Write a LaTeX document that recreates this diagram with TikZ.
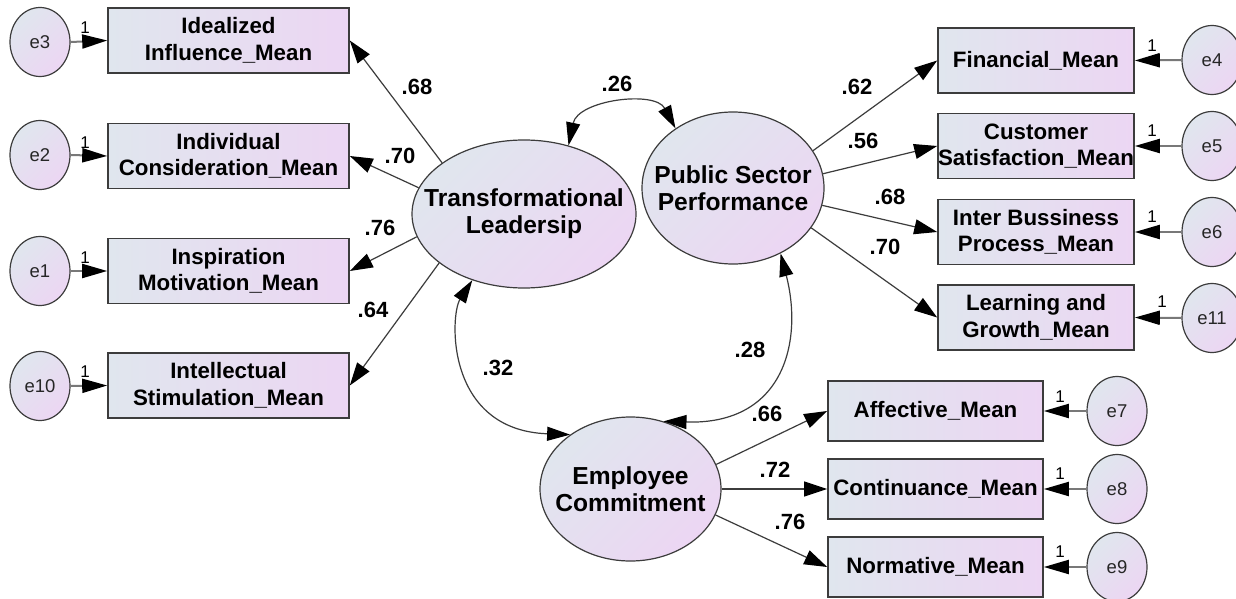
\documentclass[tikz,border=0pt]{standalone}
\usepackage{fontspec}
\setmainfont{Liberation Sans}
\usetikzlibrary{arrows.meta,shapes.geometric}
\definecolor{ca}{RGB}{224,230,238}
\definecolor{cb}{RGB}{236,214,243}
\definecolor{edge}{RGB}{60,60,60}
\definecolor{eline}{RGB}{120,120,120}
\begin{document}
\begin{tikzpicture}[x=1pt,y=-1pt,
  obs/.style={rectangle, draw=edge, line width=1.6pt, left color=ca, right color=cb, minimum height=65pt, inner sep=0pt, align=center, font=\fontsize{22.3}{26.5}\selectfont\bfseries},
  lat/.style={ellipse, draw=edge, line width=1.2pt, shading=axis, top color=ca, bottom color=cb, shading angle=45, inner sep=0pt},
  lattext/.style={align=center, inner sep=0pt, font=\fontsize{24.6}{27}\selectfont\bfseries},
  err/.style={ellipse, draw=edge, line width=1.2pt, top color=ca, bottom color=cb, shading angle=45, minimum width=60pt, minimum height=69pt, inner sep=0pt, text=black!85, font=\fontsize{18.5}{20}\selectfont},
  pth/.style={draw=edge, line width=1.2pt, -{Triangle[length=23pt,width=15pt,color=black]}},
  cov/.style={draw=edge, line width=1.2pt, {Triangle[length=23pt,width=14pt,color=black]}-{Triangle[length=23pt,width=14pt,color=black]}},
  eln/.style={draw=eline, line width=2pt, -{Triangle[length=25pt,width=14pt,color=black]}},
  coef/.style={inner sep=0pt, font=\fontsize{22}{24}\selectfont\bfseries},
  one/.style={inner sep=0pt, text=black, font=\fontsize{17}{18}\selectfont}
]
\useasboundingbox[fill=white] (0,0) rectangle (1236,599);

% latent variables
\node[lat, minimum width=224pt, minimum height=148pt] (TL) at (524,214) {};
\node[lattext] (TLt) at (TL) {Transformational\\Leadersip};
\node[lat, minimum width=182pt, minimum height=152pt] (PSP) at (733,188) {};
\node[lattext] (PSPt) at (PSP) {Public Sector\\Performance};
\node[lat, minimum width=181pt, minimum height=144pt] (EC) at (630.5,489) {};
\node[lattext] (ECt) at (EC) {Employee\\Commitment};

% left observed
\node[obs, minimum width=241pt] (B1) at (228.5,40.5) {Idealized\\Influence\_Mean};
\node[obs, minimum width=241pt] (B2) at (228.5,156) {Individual\\Consideration\_Mean};
\node[obs, minimum width=241pt] (B3) at (228.5,271) {Inspiration\\Motivation\_Mean};
\node[obs, minimum width=241pt] (B4) at (228.5,385.5) {Intellectual\\Stimulation\_Mean};
\node[err] (E3) at (40,42) {e3};
\node[err] (E2) at (40,155) {e2};
\node[err] (E1) at (40,271) {e1};
\node[err] (E10) at (40,386) {e10};

% right observed
\node[obs, minimum width=196pt] (F) at (1036,60.5) {Financial\_Mean};
\node[obs, minimum width=196pt] (CS) at (1036,146) {Customer\\Satisfaction\_Mean};
\node[obs, minimum width=196pt] (IB) at (1036,232) {Inter Bussiness\\Process\_Mean};
\node[obs, minimum width=196pt] (LG) at (1036,317.5) {Learning and\\Growth\_Mean};
\node[err] (E4) at (1212,60) {e4};
\node[err] (E5) at (1212,146) {e5};
\node[err] (E6) at (1212,232) {e6};
\node[err] (E11) at (1212,318) {e11};

% bottom observed
\node[obs, minimum width=215pt, minimum height=60pt] (A) at (935.5,411) {Affective\_Mean};
\node[obs, minimum width=215pt, minimum height=60pt] (C) at (935.5,489) {Continuance\_Mean};
\node[obs, minimum width=215pt, minimum height=60pt] (N) at (935.5,567) {Normative\_Mean};
\node[err] (E7) at (1117,411) {e7};
\node[err] (E8) at (1117,489) {e8};
\node[err] (E9) at (1117,567) {e9};

% error arrows
\draw[eln] (E3.east) -- (B1.west);
\draw[eln] (E2.east) -- (B2.west);
\draw[eln] (E1.east) -- (B3.west);
\draw[eln] (E10.east) -- (B4.west);
\draw[eln] (E4.west) -- (F.east);
\draw[eln] (E5.west) -- (CS.east);
\draw[eln] (E6.west) -- (IB.east);
\draw[eln] (E11.west) -- (LG.east);
\draw[eln] (E7.west) -- (A.east);
\draw[eln] (E8.west) -- (C.east);
\draw[eln] (E9.west) -- (N.east);

\node[one] (o3) at (85,28) {1};
\node[one] (o2) at (85,143) {1};
\node[one] (o1) at (85,258) {1};
\node[one] (o10) at (85,372) {1};
\node[one] (o4) at (1152,46) {1};
\node[one] (o5) at (1152,131) {1};
\node[one] (o6) at (1152,217) {1};
\node[one] (o11) at (1162,302) {1};
\node[one] (o7) at (1060,397) {1};
\node[one] (o8) at (1060,474) {1};
\node[one] (o9) at (1060,552) {1};

% loadings
\draw[pth] (TL.148.7) -- (B1.east);
\draw[pth] (TL.166.6) -- (B2.east);
\draw[pth] (TL.192.4) -- (B3.east);
\draw[pth] (TL.210.7) -- (B4.east);
\draw[pth] (PSP.25.4) -- (F.west);
\draw[pth] (PSP.9.5) -- (CS.west);
\draw[pth] (PSP.349.3) -- (IB.west);
\draw[pth] (PSP.333.4) -- (LG.west);
\draw[pth] (EC.16.6) -- (A.west);
\draw[pth] (EC.east) -- (C.west);
\draw[pth] (EC.343.4) -- (N.west);

% covariances
\draw[cov] (TL.57.5) .. controls (578,100) and (655,90) .. (PSP.134);
\draw[cov] (TL.232.7) .. controls (450,315) and (445,430) .. (EC.138);
\draw[cov] (PSP.306.8) .. controls (803,340) and (785,425) .. (EC.64.4);

% coefficients
\node[coef] (l1) at (417,87) {.68};
\node[coef] (l2) at (400,156) {.70};
\node[coef] (l3) at (380,228) {.76};
\node[coef] (l4) at (373,310) {.64};
\node[coef] (l5) at (617,84) {.26};
\node[coef] (l6) at (498,368) {.32};
\node[coef] (l7) at (750,350) {.28};
\node[coef] (l8) at (857,87) {.62};
\node[coef] (l9) at (863,141) {.56};
\node[coef] (l10) at (890,197) {.68};
\node[coef] (l11) at (885,247) {.70};
\node[coef] (l12) at (767,414) {.66};
\node[coef] (l13) at (775,470) {.72};
\node[coef] (l14) at (790,522) {.76};
\end{tikzpicture}
\end{document}
